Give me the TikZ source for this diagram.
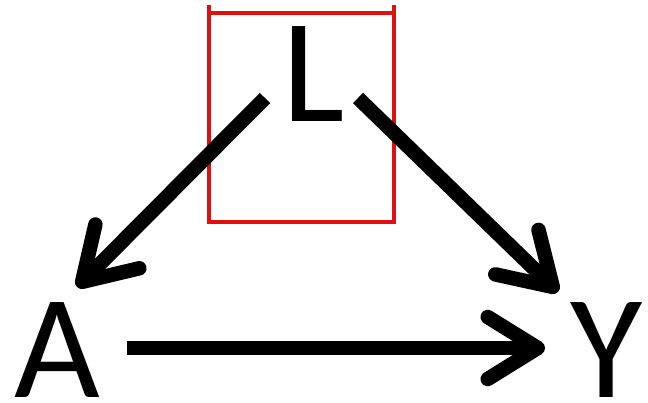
\documentclass[tikz,border=0pt]{standalone}
\usepackage{fontspec}
\setmainfont{Carlito}
\usetikzlibrary{arrows.meta}
\definecolor{boxred}{RGB}{222,16,16}
\begin{document}
\begin{tikzpicture}[x=1pt,y=-1pt,
  lbl/.style={inner sep=0pt, anchor=base, text depth=0pt, font=\fontsize{148}{152}\selectfont},
  arr/.style={line width=14.5pt, line cap=butt, -{Straight Barb[length=50pt,width=62pt,round]}},
  redbox/.style={draw=boxred, line width=3.5pt}]
\useasboundingbox (0,0) rectangle (648,403);
\node[lbl] (L) at (314,122) {L};
\node[lbl] (A) at (57.5,397) {A};
\node[lbl] (Y) at (607,397) {Y};
\draw[redbox] (209,5) -- (209,222) -- (394,222) -- (394,5);
\draw[redbox] (209,13) -- (394,13);
\draw[arr] ([shift={(-49,-24)}]L.base) -- ([shift={(19.5,-110)}]A.base);
\draw[arr] ([shift={(44,-24)}]L.base) -- ([shift={(-49,-105)}]Y.base);
\draw[arr] ([shift={(69.5,-49)}]A.base) -- ([shift={(-62,-49)}]Y.base);
\end{tikzpicture}
\end{document}
